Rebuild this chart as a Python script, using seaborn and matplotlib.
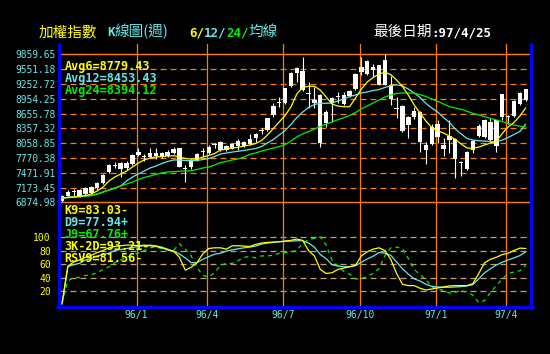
import numpy as np
import pandas as pd
import matplotlib
matplotlib.use("Agg")
import matplotlib.pyplot as plt
from matplotlib.lines import Line2D
from matplotlib.font_manager import FontProperties
import seaborn as sns

W, H = 550, 354

# ---------------- data ----------------
quarter_labels = ["96/1", "96/4", "96/7", "96/10", "97/1", "97/4"]
quarter_first_idx = [13, 25, 38, 51, 64, 76]

price_levels = [9859.65, 9561.18, 9262.72, 8964.25, 8665.78, 8367.32,
                8068.85, 7770.38, 7471.91, 7173.45, 6874.98]
price_labels = ["9859.65", "9551.18", "9252.72", "8954.25", "8655.78", "8357.32",
                "8058.85", "7770.38", "7471.91", "7173.45", "6874.98"]
kd_levels = [100, 80, 60, 40, 20]

open_ = [6901, 7002, 7109, 7002, 7042, 7062, 7157, 7258, 7492, 7617,
         7662, 7561, 7647, 7829, 7799, 7783, 7863, 7789, 7809, 7869,
         7964, 7561, 7577, 7728, 7886, 7863, 8021, 7930, 8010, 7956,
         8010, 8097, 8045, 8178, 8309, 8333, 8636, 8874, 8872, 9221,
         9483, 9533, 9080, 8932, 9039, 8470, 8868, 9003, 9039, 9019,
         9170, 9513, 9469, 9610, 9638, 9251, 9241, 8767, 8817, 8595,
         8589, 8696, 8030, 8045, 8454, 8035, 8131, 8146, 7692, 7553,
         7930, 8212, 8198, 8501, 8010, 8589, 8610, 8615, 8858, 8942]
close = [7002, 7089, 7083, 7123, 7163, 7183, 7270, 7425, 7627, 7637,
         7541, 7674, 7829, 7896, 7783, 7863, 7815, 7869, 7889, 7960,
         7593, 7541, 7728, 7849, 7906, 7996, 8041, 8091, 7930, 8051,
         8117, 8010, 8152, 8253, 8329, 8569, 8817, 8894, 9174, 9477,
         9578, 9140, 9059, 8868, 8065, 8706, 8973, 9023, 8848, 9120,
         9463, 9610, 9731, 9543, 9251, 9745, 8964, 8747, 8319, 8434,
         8722, 8101, 7930, 8387, 8192, 7946, 8212, 7742, 7672, 7896,
         8111, 8414, 8535, 8125, 8525, 9059, 8589, 8924, 9083, 9160]
high = [7022, 7113, 7153, 7143, 7183, 7203, 7294, 7446, 7647, 7694,
        7688, 7698, 7849, 7980, 7859, 7980, 7970, 7889, 7930, 7990,
        7980, 7627, 7758, 7869, 7964, 8021, 8077, 8111, 8031, 8071,
        8142, 8121, 8246, 8273, 8368, 8585, 8872, 9005, 9190, 9509,
        9594, 9807.91, 9307, 9201, 9059, 8737, 8989, 9106, 9106, 9140,
        9483, 9800, 9751, 9664, 9654, 9859.65, 9422, 8992, 8837, 8615,
        8803, 8716, 8085, 8454, 8535, 8166, 8535, 8172, 7702, 7910,
        8131, 8464, 8555, 8575, 8535, 9069, 8642, 8938, 9099, 9170]
low = [6874.98, 6982, 6992, 6982, 7022, 7042, 7133, 7244, 7466, 7561,
       7385, 7536, 7627, 7809, 7718, 7768, 7748, 7768, 7789, 7849,
       7577, 7294, 7547, 7708, 7795, 7849, 7964, 7909, 7909, 7940,
       7930, 7990, 8031, 8097, 8246, 8313, 8601, 8803, 8858, 9201,
       9307, 9120, 8771, 8777, 7987, 8388, 8501, 8872, 8838, 8999,
       9150, 9442, 9452, 9408, 9231, 9231, 8843, 8569, 8303, 8166,
       8555, 7899, 7647, 8031, 8077, 7809, 7875, 7375, 7399, 7526,
       7869, 8202, 8182, 8101, 7899, 8535, 8454, 8595, 8838, 8928]

ma6 = [6962, 6972, 6982, 6992, 7012, 7042, 7103, 7183, 7305, 7385,
       7446, 7506, 7587, 7668, 7728, 7768, 7789, 7799, 7809, 7815,
       7789, 7758, 7748, 7748, 7789, 7819, 7859, 7930, 7950, 7970,
       7984, 8010, 8031, 8061, 8121, 8232, 8364, 8495, 8626, 8797,
       9060, 9190, 9215, 9215, 9140, 8999, 8858, 8817, 8803, 8803,
       8979, 9160, 9302, 9392, 9463, 9497, 9453, 9342, 9211, 9039,
       8838, 8676, 8515, 8384, 8313, 8273, 8212, 8142, 8051, 7970,
       7964, 7990, 8031, 8071, 8101, 8263, 8394, 8485, 8615, 8779.43]
ma12 = [6962, 6972, 6982, 6992, 7002, 7012, 7042, 7083, 7123, 7163,
        7204, 7305, 7385, 7446, 7506, 7567, 7607, 7658, 7698, 7728,
        7728, 7718, 7714, 7718, 7738, 7758, 7799, 7849, 7869, 7889,
        7904, 7920, 7940, 7960, 8000, 8071, 8142, 8232, 8319, 8444,
        8585, 8696, 8787, 8848, 8872, 8872, 8878, 8918, 8959, 9009,
        9039, 9080, 9100, 9130, 9150, 9190, 9227, 9247, 9221, 9160,
        9080, 8989, 8868, 8777, 8696, 8585, 8485, 8353, 8253, 8162,
        8131, 8117, 8111, 8101, 8097, 8131, 8182, 8243, 8303, 8453.43]
ma24 = [6962, 6972, 6982, 6992, 7002, 7012, 7042, 7083, 7123, 7163,
        7204, 7244, 7284, 7335, 7375, 7405, 7436, 7466, 7486, 7492,
        7502, 7506, 7512, 7536, 7567, 7587, 7627, 7678, 7698, 7728,
        7748, 7789, 7843, 7869, 7910, 7940, 7970, 8000, 8037, 8111,
        8192, 8253, 8303, 8353, 8404, 8454, 8495, 8541, 8581, 8626,
        8686, 8757, 8817, 8878, 8938, 8999, 9039, 9069, 9080, 9080,
        9075, 9049, 9009, 8959, 8912, 8858, 8807, 8777, 8751, 8710,
        8670, 8636, 8601, 8569, 8535, 8505, 8464, 8434, 8410, 8394.12]

k9 = [2, 57, 63, 66, 70, 73, 77, 80, 84, 86,
      87, 88, 88, 87, 88, 87, 86, 84, 81, 79,
      70, 51, 55, 62, 75, 83, 84, 84, 82, 87,
      87, 86.5, 86, 89, 91, 92, 92.5, 93, 94, 95,
      97, 95, 80, 72, 52, 46, 47, 52, 54, 56,
      58, 72, 78, 82, 84, 80, 67, 46, 30, 28,
      28, 24, 21.5, 23, 24.5, 26, 27.5, 28, 28, 28,
      31, 46, 62, 67, 70, 74, 76, 80, 83.5, 83.03]
d9 = [0, 56, 59, 61, 66, 68, 72, 74, 76, 80,
      81.5, 83, 84.5, 86, 87, 88, 87, 85, 82, 79,
      75, 69, 62, 62, 67, 71, 74.5, 76, 79, 81,
      82.5, 84, 85, 86.5, 89.5, 91, 92, 93, 93.5, 94,
      94.5, 94.5, 91, 85, 74, 68, 59, 57, 56, 56,
      57.5, 62.5, 67.5, 71.5, 77, 76, 73, 63, 53, 45,
      38, 34.8, 30, 27, 26, 25.5, 25.5, 26, 26.5, 27.5,
      29.5, 38, 47, 53, 58.5, 62.5, 66, 69, 72.5, 77.94]
j9 = [2, 35, 40, 40, 43, 44, 47, 52, 56, 62,
      66, 70, 73, 76, 80, 84, 85, 83, 81, 80,
      90, 82, 72, 55, 43, 41, 47, 58, 61, 61,
      65, 70, 71, 69, 72, 72, 73, 76, 77, 78,
      80, 91, 96, 98, 100, 88, 66, 57, 49, 45,
      38, 38, 42, 46, 53, 72, 84, 85, 83, 68,
      52, 44, 37, 26, 23, 21, 17, 18, 21, 18,
      14, 3, 6, 18, 28, 38, 46, 48, 50, 58]

avg_texts = ["Avg6=8779.43", "Avg12=8453.43", "Avg24=8394.12"]
kd_texts = ["K9=83.03-", "D9=77.94+", "J9=67.76+", "3K-2D=93.21-", "RSV9=81.56-"]

# ---------------- style ----------------
YELLOW = "#FFFF00"
CYAN = "#66E8E8"
GREEN = "#00F000"
ORANGE = "#FF8000"
TAN = "#C8A070"
BLUE = "#0000FF"
WHITE = "#FFFFFF"

sns.set_style("dark", {"axes.facecolor": "black", "figure.facecolor": "black"})
plt.rcParams["font.family"] = ["DejaVu Sans Mono", "Noto Sans CJK TC"]
plt.rcParams["lines.scale_dashes"] = False

fig = plt.figure(figsize=(W / 100, H / 100), dpi=100, facecolor="black")


def fx(x):
    return x / W


def fy(y):
    return 1 - y / H


ax1 = fig.add_axes([fx(60), fy(202.3), 470 / W, 158.3 / H])
ax2 = fig.add_axes([fx(60), fy(306), 470 / W, 103.7 / H])
for ax in (ax1, ax2):
    ax.set_facecolor("black")
    for s in ax.spines.values():
        s.set_visible(False)
    ax.set_xlim(-0.34, 79.73)
    ax.tick_params(length=0)
    ax.grid(False)

idx = np.arange(len(close))
df = pd.DataFrame({"idx": idx, "ma6": ma6, "ma12": ma12, "ma24": ma24,
                   "k9": k9, "d9": d9, "j9": j9})
vpos = [q - 0.3 for q in quarter_first_idx]

# ---- upper panel ----
ax1.set_ylim(6874.98, 10068)
for i, lev in enumerate(price_levels):
    if i == 0:
        ax1.axhline(lev, color=ORANGE, lw=1.0, zorder=1)
    elif i < len(price_levels) - 1:
        ax1.axhline(lev, color=ORANGE, lw=0.9, ls=(0, (4.3, 2.9)), zorder=1)
for v in vpos:
    ax1.axvline(v, color=ORANGE, lw=0.9, zorder=1)

o = np.array(open_, float)
c = np.array(close, float)
body_bot = np.minimum(o, c)
body_h = np.maximum(np.abs(c - o), 20)
ax1.vlines(idx, low, high, color=WHITE, lw=0.8, zorder=3)
ax1.bar(idx, body_h, bottom=body_bot, width=0.75, color=WHITE, lw=0, zorder=3)

sns.lineplot(data=df, x="idx", y="ma12", ax=ax1, color=CYAN, lw=0.9, zorder=4)
sns.lineplot(data=df, x="idx", y="ma24", ax=ax1, color=GREEN, lw=0.9, zorder=5)
sns.lineplot(data=df, x="idx", y="ma6", ax=ax1, color=YELLOW, lw=0.9, zorder=6)

ax1.set_xticks([])
ax1.set_yticks(price_levels)
ax1.set_yticklabels(price_labels, color=CYAN, fontsize=6.9, family="DejaVu Sans Mono")
ax1.tick_params(axis="y", pad=2.9)
ax1.set_xlabel("")
ax1.set_ylabel("")

# ---- lower panel ----
ax2.set_ylim(-2.2, 151.4)
for lev in kd_levels:
    ax2.axhline(lev, color=TAN, lw=0.9, ls=(0, (4.3, 2.9)), zorder=1)
for v in vpos:
    ax2.axvline(v, color=ORANGE, lw=0.9, zorder=1)
sns.lineplot(data=df, x="idx", y="j9", ax=ax2, color=GREEN, lw=0.9,
             linestyle=(0, (2.9, 2.9)), zorder=3)
sns.lineplot(data=df, x="idx", y="d9", ax=ax2, color=CYAN, lw=0.9, zorder=4)
sns.lineplot(data=df, x="idx", y="k9", ax=ax2, color=YELLOW, lw=0.9, zorder=5)
ax2.set_yticks(kd_levels)
ax2.set_yticklabels([str(v) for v in kd_levels], color=YELLOW, fontsize=7,
                    family="DejaVu Sans Mono")
ax2.tick_params(axis="y", pad=6.5)
ax2.set_xticks(vpos)
ax2.set_xticklabels(quarter_labels, color=CYAN, fontsize=7, family="DejaVu Sans Mono")
ax2.tick_params(axis="x", pad=3)
ax2.set_xlabel("")
ax2.set_ylabel("")

# ---- frame ----
fig.add_artist(Line2D([fx(60), fx(530)], [fy(202.3)] * 2, color=ORANGE, lw=1.0))
fig.add_artist(Line2D([fx(58.7)] * 2, [fy(44), fy(308.3)], color=BLUE, lw=2.2))
fig.add_artist(Line2D([fx(531.3)] * 2, [fy(44), fy(308.3)], color=BLUE, lw=2.2))
fig.add_artist(Line2D([fx(57.3), fx(532.7)], [fy(307.2)] * 2, color=BLUE, lw=2.2))

# ---- texts ----
CJK = FontProperties(family=["Noto Sans CJK TC"], size=10.5)
MONO_B = FontProperties(family=["DejaVu Sans Mono"], weight="bold", size=9)
MONO_L = FontProperties(family=["DejaVu Sans Mono"], weight="bold", size=8.5)
renderer = fig.canvas.get_renderer()


def draw_segments(x_px, y_px, segments, va="baseline"):
    x = x_px
    for s, color, fp in segments:
        t = fig.text(fx(x), fy(y_px), s, color=color, fontproperties=fp,
                     va=va, ha="left", zorder=10)
        bb = t.get_window_extent(renderer)
        x += bb.width


draw_segments(38.6, 36, [("加權指數", YELLOW, CJK)])
draw_segments(107, 36, [("K", CYAN, MONO_B), ("線圖(週)", CYAN, CJK)])
draw_segments(189, 36, [("6/", YELLOW, MONO_B), ("12/", CYAN, MONO_B),
                        ("24/", GREEN, MONO_B), ("均線", CYAN, CJK)])
draw_segments(373, 36, [("最後日期", WHITE, CJK), (":97/4/25", WHITE, MONO_B)])

for txt, col, yy in zip(avg_texts, [YELLOW, CYAN, GREEN], [66.5, 78.5, 90.5]):
    fig.text(fx(64.5), fy(yy), txt, color=col, fontproperties=MONO_L,
             va="center", ha="left", zorder=10)
for txt, col, yy in zip(kd_texts, [YELLOW, CYAN, GREEN, YELLOW, YELLOW],
                        [210, 222, 234, 246, 258]):
    fig.text(fx(64.5), fy(yy), txt, color=col, fontproperties=MONO_L,
             va="center", ha="left", zorder=10)

fig.savefig("out.png", dpi=100, facecolor="black")
